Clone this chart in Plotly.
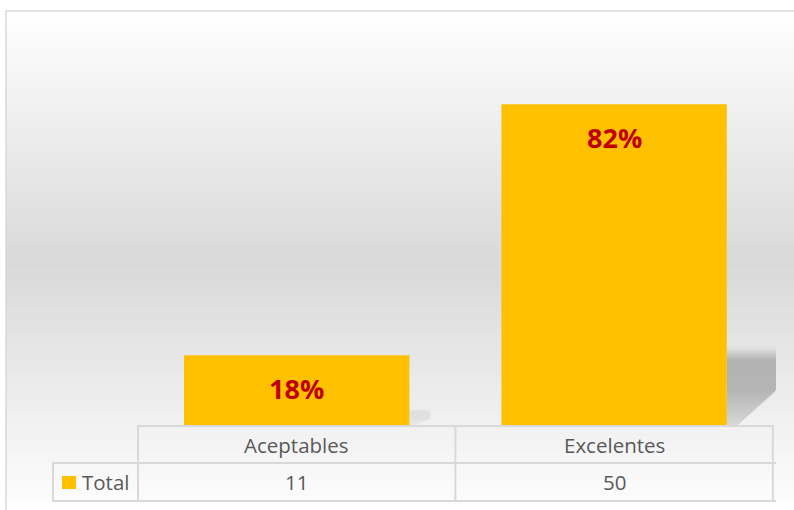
import plotly.graph_objects as go

# ---- data ----
categories = ["Aceptables", "Excelentes"]
totals = [11, 50]
series_name = "Total"

W, H = 794, 510
FONT = "Open Sans"
TXT = "#595959"
GRID = "#d9d9d9"
BAR = "#FFC000"


def px(x):
    return x / W


def py(y):
    return 1 - y / H


total_sum = sum(totals)
pct_labels = [f"{round(v * 100 / total_sum)}%" for v in totals]

fig = go.Figure()
fig.add_trace(go.Bar(
    x=categories, y=totals, width=0.71,
    marker=dict(color=BAR, line=dict(width=0)),
    hoverinfo="skip", showlegend=False,
))

shapes = []
# background gradient (white -> gray -> white)
top, bottom = 11, 520
n = 140
for i in range(n):
    y0 = top + (bottom - top) * i / n
    y1 = top + (bottom - top) * (i + 1) / n + 0.6
    t = (i + 0.5) / n
    g = int(round(255 - (255 - 217) * (1 - abs(2 * t - 1))))
    shapes.append(dict(type="rect", xref="paper", yref="paper",
                       x0=px(6), x1=px(800), y0=py(min(y1, 520)), y1=py(y0),
                       fillcolor=f"rgb({g},{g},{g})", line=dict(width=0), layer="below"))
# chart border
shapes.append(dict(type="rect", xref="paper", yref="paper",
                   x0=px(6), x1=px(800), y0=py(520), y1=py(11),
                   line=dict(color=GRID, width=1.5), fillcolor="rgba(0,0,0,0)", layer="below"))

# bar shadows (decorative, opaque gray blended over local background)
ymax = max(totals)
ypix = (426 - 40) / 60.0  # pixels per data unit


def bg_at(data_y):
    pyy = 426 - data_y * ypix
    t = (pyy - top) / (bottom - top)
    return 255 - (255 - 217) * (1 - abs(2 * t - 1))


for i, v in enumerate(totals):
    right = i + 0.355
    sw = 0.04 + 0.115 * v / ymax
    amax = 0.23 * (v / ymax) ** 0.8
    htop = 0.245 * v
    hfull = 0.205 * v
    hdiag = 0.11 * v
    steps = 40
    for k in range(steps):
        a0 = htop * k / steps
        a1 = htop * (k + 1) / steps
        mid = (a0 + a1) / 2
        if mid > hfull:
            alpha = amax * (htop - mid) / (htop - hfull)
        else:
            alpha = amax
        if mid < hdiag:
            frac = mid / hdiag
            wdt = sw * (0.2 + 0.8 * frac)
            alpha *= 0.45 + 0.55 * frac
        else:
            wdt = sw
        g = int(round(bg_at(mid) * (1 - alpha)))
        shapes.append(dict(type="rect", xref="x", yref="y",
                           x0=right, x1=right + wdt, y0=a0, y1=a1 + htop / steps * 0.5,
                           fillcolor=f"rgb({g},{g},{g})", line=dict(width=0), layer="below"))

# data table grid
def hline(y, x0, x1, xref="paper"):
    shapes.append(dict(type="line", xref=xref, yref="paper", x0=x0, x1=x1, y0=py(y), y1=py(y),
                       line=dict(color=GRID, width=2), layer="above"))


def vline(x, y0, y1, xref="paper"):
    shapes.append(dict(type="line", xref=xref, yref="paper", x0=x, x1=x, y0=py(y0), y1=py(y1),
                       line=dict(color=GRID, width=2), layer="above"))


nc = len(categories)
hline(426, -0.5, nc - 0.5, "x")
hline(463, px(53), px(776))
hline(501, px(53), px(776))
for j in range(nc + 1):
    vline(j - 0.5, 425, 502, "x")
vline(px(53), 462, 502)
# legend key
shapes.append(dict(type="rect", xref="paper", yref="paper", x0=px(62), x1=px(76), y0=py(489), y1=py(476),
                   fillcolor=BAR, line=dict(width=0), layer="above"))

annotations = []
for c, v, lab in zip(categories, totals, pct_labels):
    annotations.append(dict(x=c, y=v, xref="x", yref="y", text=lab, showarrow=False,
                            yanchor="middle", yshift=-33,
                            font=dict(family=FONT, size=27, color="#C00000", weight="bold")))
    annotations.append(dict(x=c, y=py(445), xref="x", yref="paper", text=c, showarrow=False,
                            yanchor="middle", font=dict(family=FONT, size=20.5, color=TXT)))
    annotations.append(dict(x=c, y=py(482), xref="x", yref="paper", text=str(v), showarrow=False,
                            yanchor="middle", font=dict(family=FONT, size=20.5, color=TXT)))
annotations.append(dict(x=px(80), y=py(482), xref="paper", yref="paper", text=series_name, showarrow=False,
                        xanchor="left", yanchor="middle", font=dict(family=FONT, size=20.5, color=TXT)))

fig.update_layout(
    width=W, height=H,
    margin=dict(l=0, r=0, t=0, b=0),
    paper_bgcolor="white", plot_bgcolor="rgba(0,0,0,0)",
    xaxis=dict(domain=[px(137), px(776)], showticklabels=False, showgrid=False, zeroline=False,
               showline=False, ticks="", fixedrange=True),
    yaxis=dict(domain=[py(426), py(40)], range=[0, 60], visible=False, fixedrange=True),
    bargap=0.29,
    shapes=shapes,
    annotations=annotations,
    showlegend=False,
)

fig.write_html("out.html", config={"displayModeBar": False},
               post_script="document.body.style.margin='0';document.body.style.overflow='hidden';")
